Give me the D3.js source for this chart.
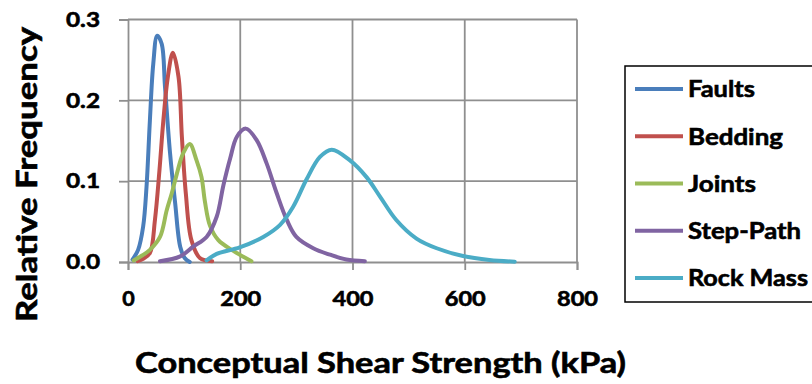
<!DOCTYPE html>
<html>
<head>
<meta charset="utf-8">
<script src="https://cdn.jsdelivr.net/npm/d3@7/dist/d3.min.js"></script>
<style>
  html, body { margin: 0; padding: 0; background: #ffffff; }
  svg { display: block; }
  text { font-family: Lato, "Open Sans", sans-serif; font-weight: bold; fill: #000; stroke: #000; stroke-width: 0.6px; }
</style>
</head>
<body>
<svg id="chart" width="812" height="384"></svg>
<script>
// Shear strength distributions (kPa) and their relative frequencies
const seriesNames = ["Faults", "Bedding", "Joints", "Step-Path", "Rock Mass"];
const seriesColors = ["#4a7ebb", "#c0504d", "#9bbb59", "#8064a2", "#4bacc6"];

const faultsX = [8, 18, 27, 33, 39, 45, 52, 60, 66, 75, 84, 93, 101, 110];
const faultsY = [0.003, 0.015, 0.044, 0.093, 0.175, 0.245, 0.280, 0.270, 0.216, 0.134, 0.073, 0.019, 0.005, 0.0];

const beddingX = [17, 27, 39, 48, 56, 63, 71, 80, 90, 96, 103, 113, 128, 150];
const beddingY = [0.001, 0.004, 0.011, 0.052, 0.113, 0.175, 0.229, 0.259, 0.229, 0.155, 0.085, 0.027, 0.005, 0.001];

const jointsX = [10, 25, 39, 57, 69, 78, 87, 98, 110, 122, 131, 137, 146, 161, 187, 220];
const jointsY = [0.002, 0.008, 0.015, 0.031, 0.064, 0.085, 0.109, 0.134, 0.146, 0.126, 0.105, 0.075, 0.045, 0.027, 0.014, 0.001];

const stepPathX = [57, 93, 116, 140, 158, 170, 182, 194, 210, 229, 247, 265, 283, 300, 330, 360, 389, 422];
const stepPathY = [0.001, 0.007, 0.019, 0.031, 0.056, 0.095, 0.128, 0.155, 0.165, 0.151, 0.122, 0.085, 0.052, 0.031, 0.017, 0.009, 0.003, 0.001];

const rockMassX = [140, 158, 199, 241, 271, 294, 318, 342, 363, 395, 425, 449, 478, 514, 550, 597, 644, 689];
const rockMassY = [0.002, 0.010, 0.018, 0.031, 0.046, 0.068, 0.102, 0.130, 0.139, 0.126, 0.105, 0.081, 0.052, 0.029, 0.017, 0.0074, 0.0025, 0.0004];

const xTicks = [0, 200, 400, 600, 800];
const yTicks = [0.0, 0.1, 0.2, 0.3];

const seriesX = [faultsX, beddingX, jointsX, stepPathX, rockMassX];
const seriesY = [faultsY, beddingY, jointsY, stepPathY, rockMassY];

const svg = d3.select("#chart");
const plot = { left: 128, right: 577, top: 19.5, bottom: 262 };

const x = d3.scaleLinear().domain([0, 800]).range([plot.left, plot.right]);
const y = d3.scaleLinear().domain([0, 0.3]).range([plot.bottom, plot.top]);

const gridColor = "#8f8f8f";

// gridlines
svg.append("g").selectAll("line").data(yTicks.filter(d => d > 0)).join("line")
  .attr("x1", plot.left).attr("x2", plot.right)
  .attr("y1", d => y(d)).attr("y2", d => y(d))
  .attr("stroke", gridColor).attr("stroke-width", 1.8);
svg.append("g").selectAll("line").data(xTicks.filter(d => d > 0)).join("line")
  .attr("x1", d => x(d)).attr("x2", d => x(d))
  .attr("y1", plot.top).attr("y2", plot.bottom)
  .attr("stroke", gridColor).attr("stroke-width", 1.8);

// axes
const yAxis = svg.append("g").attr("transform", `translate(${plot.left},0)`)
  .call(d3.axisLeft(y).tickValues(yTicks).tickSize(9).tickPadding(19).tickFormat(d3.format(".1f")));
const xAxis = svg.append("g").attr("transform", `translate(0,${plot.bottom})`)
  .call(d3.axisBottom(x).tickValues(xTicks).tickSize(8).tickPadding(21).tickFormat(d3.format("d")));

[yAxis, xAxis].forEach(g => {
  g.select(".domain").attr("stroke", gridColor).attr("stroke-width", 1.8);
  g.selectAll(".tick line").attr("stroke", gridColor).attr("stroke-width", 1.8);
  g.selectAll(".tick text").style("font-family", "Lato, 'Open Sans', sans-serif")
    .style("font-weight", "bold").attr("font-size", 21).attr("fill", "#000")
    .style("stroke", "#000").style("stroke-width", "0.6px");
});
yAxis.selectAll(".tick text").attr("textLength", 34).attr("lengthAdjust", "spacingAndGlyphs");
xAxis.selectAll(".tick text").each(function(d) {
  d3.select(this).attr("textLength", d === 0 ? 12.5 : 41).attr("lengthAdjust", "spacingAndGlyphs");
});

// curves
const line = d3.line()
  .x(d => x(d[0])).y(d => y(d[1]))
  .curve(d3.curveCatmullRom.alpha(0.5));

seriesNames.forEach((name, i) => {
  const pts = seriesX[i].map((v, j) => [v, seriesY[i][j]]);
  svg.append("path").datum(pts)
    .attr("d", line)
    .attr("fill", "none")
    .attr("stroke", seriesColors[i])
    .attr("stroke-width", 4)
    .attr("stroke-linejoin", "round")
    .attr("stroke-linecap", "round");
});

// axis titles
svg.append("text")
  .attr("x", 380.5).attr("y", 373)
  .attr("text-anchor", "middle")
  .attr("font-size", 28)
  .attr("textLength", 491).attr("lengthAdjust", "spacingAndGlyphs")
  .text("Conceptual Shear Strength (kPa)");

svg.append("text")
  .attr("transform", "translate(37,174.5) rotate(-90)")
  .attr("text-anchor", "middle")
  .attr("font-size", 28)
  .attr("textLength", 295).attr("lengthAdjust", "spacingAndGlyphs")
  .text("Relative Frequency");

// legend
const legend = svg.append("g");
legend.append("rect")
  .attr("x", 625).attr("y", 66).attr("width", 200).attr("height", 236)
  .attr("fill", "#fff").attr("stroke", "#000").attr("stroke-width", 1.5);

const legendWidths = [67, 95, 68, 113, 120];
const legendY = d3.scalePoint().domain(seriesNames).range([89, 278]);

seriesNames.forEach((name, i) => {
  const cy = legendY(name);
  legend.append("line")
    .attr("x1", 635).attr("x2", 683).attr("y1", cy).attr("y2", cy)
    .attr("stroke", seriesColors[i]).attr("stroke-width", 4);
  legend.append("text")
    .attr("x", 688).attr("y", cy + 8.3)
    .attr("font-size", 23)
    .attr("textLength", legendWidths[i]).attr("lengthAdjust", "spacingAndGlyphs")
    .text(name);
});
</script>
</body>
</html>
